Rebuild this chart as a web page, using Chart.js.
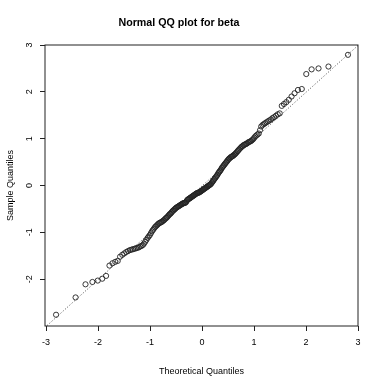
<!DOCTYPE html>
<html>
<head>
    <title>Normal QQ plot for beta</title>
    <script src="https://cdn.jsdelivr.net/npm/chart.js"></script>
    <style>
        body {
            margin: 0;
            background: #fff;
        }
    </style>
</head>
<body>
    <canvas id="qqChart" width="382" height="382"></canvas>

    <script>
        // theoretical normal quantiles (x) for the 200 sorted sample values
        const theoretical = [
            -2.807, -2.432, -2.241, -2.108, -2.005, -1.919, -1.845, -1.780, -1.722, -1.669,
            -1.621, -1.576, -1.534, -1.495, -1.457, -1.422, -1.388, -1.356, -1.326, -1.296,
            -1.268, -1.240, -1.213, -1.188, -1.163, -1.138, -1.115, -1.092, -1.069, -1.047,
            -1.026, -1.005, -0.984, -0.964, -0.944, -0.925, -0.906, -0.887, -0.868, -0.850,
            -0.833, -0.815, -0.798, -0.781, -0.764, -0.747, -0.731, -0.714, -0.698, -0.683,
            -0.667, -0.651, -0.636, -0.620, -0.605, -0.590, -0.576, -0.561, -0.546, -0.532,
            -0.517, -0.503, -0.489, -0.475, -0.461, -0.447, -0.433, -0.419, -0.406, -0.392,
            -0.378, -0.365, -0.352, -0.338, -0.325, -0.312, -0.298, -0.285, -0.272, -0.259,
            -0.246, -0.233, -0.220, -0.208, -0.195, -0.182, -0.169, -0.157, -0.144, -0.132,
            -0.119, -0.107, -0.094, -0.082, -0.069, -0.056, -0.044, -0.031, -0.019, -0.006,
            0.006, 0.019, 0.031, 0.044, 0.056, 0.069, 0.082, 0.094, 0.107, 0.119,
            0.132, 0.144, 0.157, 0.169, 0.182, 0.195, 0.208, 0.220, 0.233, 0.246,
            0.259, 0.272, 0.285, 0.298, 0.312, 0.325, 0.338, 0.352, 0.365, 0.378,
            0.392, 0.406, 0.419, 0.433, 0.447, 0.461, 0.475, 0.489, 0.503, 0.517,
            0.532, 0.546, 0.561, 0.576, 0.590, 0.605, 0.620, 0.636, 0.651, 0.667,
            0.683, 0.698, 0.714, 0.731, 0.747, 0.764, 0.781, 0.798, 0.815, 0.833,
            0.850, 0.868, 0.887, 0.906, 0.925, 0.944, 0.964, 0.984, 1.005, 1.026,
            1.047, 1.069, 1.092, 1.115, 1.138, 1.163, 1.188, 1.213, 1.240, 1.268,
            1.296, 1.326, 1.356, 1.388, 1.422, 1.457, 1.495, 1.534, 1.576, 1.621,
            1.669, 1.722, 1.780, 1.845, 1.919, 2.005, 2.108, 2.241, 2.432, 2.807
        ];

        // sorted sample values of beta (y)
        const sample = [
            -2.76, -2.39, -2.11, -2.06, -2.03, -1.99, -1.93, -1.71, -1.66, -1.63,
            -1.61, -1.52, -1.48, -1.45, -1.42, -1.40, -1.38, -1.37, -1.36, -1.35,
            -1.34, -1.33, -1.32, -1.30, -1.29, -1.27, -1.24, -1.20, -1.16, -1.12,
            -1.09, -1.06, -1.02, -0.98, -0.95, -0.92, -0.89, -0.87, -0.85, -0.83,
            -0.81, -0.80, -0.79, -0.78, -0.77, -0.75, -0.74, -0.72, -0.70, -0.69,
            -0.67, -0.65, -0.63, -0.61, -0.60, -0.58, -0.56, -0.54, -0.53, -0.51,
            -0.50, -0.48, -0.47, -0.46, -0.45, -0.44, -0.43, -0.42, -0.41, -0.40,
            -0.39, -0.38, -0.38, -0.37, -0.37, -0.36, -0.34, -0.31, -0.30, -0.29,
            -0.28, -0.27, -0.26, -0.25, -0.24, -0.23, -0.22, -0.21, -0.20, -0.19,
            -0.18, -0.17, -0.16, -0.16, -0.15, -0.15, -0.14, -0.13, -0.12, -0.11,
            -0.10, -0.09, -0.08, -0.07, -0.06, -0.05, -0.04, -0.03, -0.02, -0.01,
            0.00, 0.01, 0.02, 0.03, 0.05, 0.07, 0.09, 0.11, 0.13, 0.15,
            0.17, 0.19, 0.21, 0.23, 0.26, 0.28, 0.30, 0.32, 0.34, 0.37,
            0.39, 0.41, 0.43, 0.45, 0.47, 0.49, 0.51, 0.53, 0.55, 0.57,
            0.58, 0.60, 0.61, 0.62, 0.63, 0.64, 0.66, 0.67, 0.69, 0.71,
            0.73, 0.75, 0.77, 0.79, 0.81, 0.83, 0.84, 0.86, 0.87, 0.88,
            0.89, 0.90, 0.92, 0.93, 0.94, 0.95, 0.97, 0.99, 1.02, 1.05,
            1.07, 1.09, 1.11, 1.18, 1.26, 1.29, 1.31, 1.33, 1.35, 1.37,
            1.39, 1.41, 1.44, 1.46, 1.49, 1.52, 1.54, 1.70, 1.74, 1.78,
            1.83, 1.90, 1.97, 2.04, 2.06, 2.38, 2.48, 2.50, 2.54, 2.79
        ];

        const xTicks = [-3, -2, -1, 0, 1, 2, 3];
        const yTicks = [-2, -1, 0, 1, 2, 3];

        // qqline
        const qqIntercept = -0.01;
        const qqSlope = 1.0;

        const xMin = -3.02, xMax = 3.0;
        const yMin = -3.0, yMax = 3.0;

        const points = theoretical.map((x, i) => ({ x: x, y: sample[i] }));
        const linePts = [
            { x: xMin, y: qqIntercept + qqSlope * xMin },
            { x: xMax, y: qqIntercept + qqSlope * xMax }
        ];

        const fontFamily = '"Liberation Sans", Arial, sans-serif';

        // R style box round the plot region
        const boxPlugin = {
            id: 'box',
            afterDraw(chart) {
                const a = chart.chartArea;
                const ctx = chart.ctx;
                ctx.save();
                ctx.strokeStyle = '#222';
                ctx.lineWidth = 1;
                ctx.strokeRect(a.left, a.top, a.right - a.left, a.bottom - a.top);
                ctx.restore();
            }
        };

        const ctx = document.getElementById('qqChart').getContext('2d');
        new Chart(ctx, {
            type: 'scatter',
            data: {
                datasets: [{
                    type: 'line',
                    data: linePts,
                    borderColor: '#333',
                    borderWidth: 0.9,
                    borderDash: [1, 2],
                    pointRadius: 0,
                    fill: false
                },
                {
                    data: points,
                    pointStyle: 'circle',
                    pointRadius: 2.6,
                    borderWidth: 0.9,
                    borderColor: '#222',
                    backgroundColor: 'rgba(0,0,0,0)'
                }]
            },
            options: {
                responsive: false,
                animation: false,
                layout: {
                    padding: { left: 0, right: 24, top: 0, bottom: 0 }
                },
                plugins: {
                    legend: { display: false },
                    tooltip: { enabled: false },
                    title: {
                        display: true,
                        text: 'Normal QQ plot for beta',
                        color: '#000',
                        font: { family: fontFamily, size: 10.7, weight: 'bold' },
                        padding: { top: 16.6, bottom: 15.56 }
                    }
                },
                scales: {
                    x: {
                        type: 'linear',
                        position: 'bottom',
                        min: xMin,
                        max: xMax,
                        afterBuildTicks: s => { s.ticks = xTicks.map(v => ({ value: v })); },
                        afterFit: s => { s.height = 56; },
                        grid: { drawOnChartArea: false, drawTicks: true, tickLength: 5, color: '#222' },
                        border: { display: false },
                        ticks: {
                            color: '#000',
                            padding: 6,
                            maxRotation: 0,
                            font: { family: fontFamily, size: 9 }
                        },
                        title: {
                            display: true,
                            text: 'Theoretical Quantiles',
                            color: '#000',
                            font: { family: fontFamily, size: 9 },
                            padding: { top: 0, bottom: 4.6 }
                        }
                    },
                    y: {
                        type: 'linear',
                        position: 'left',
                        min: yMin,
                        max: yMax,
                        afterBuildTicks: s => { s.ticks = yTicks.map(v => ({ value: v })); },
                        afterFit: s => { s.width = 45; },
                        grid: { drawOnChartArea: false, drawTicks: true, tickLength: 5, color: '#222' },
                        border: { display: false },
                        ticks: {
                            color: '#000',
                            padding: 6,
                            minRotation: 90,
                            maxRotation: 90,
                            crossAlign: 'center',
                            font: { family: fontFamily, size: 9 }
                        },
                        title: {
                            display: true,
                            text: 'Sample Quantiles',
                            color: '#000',
                            font: { family: fontFamily, size: 9 },
                            padding: { top: 5.1, bottom: 0 }
                        }
                    }
                }
            },
            plugins: [boxPlugin]
        });
    </script>
</body>
</html>
